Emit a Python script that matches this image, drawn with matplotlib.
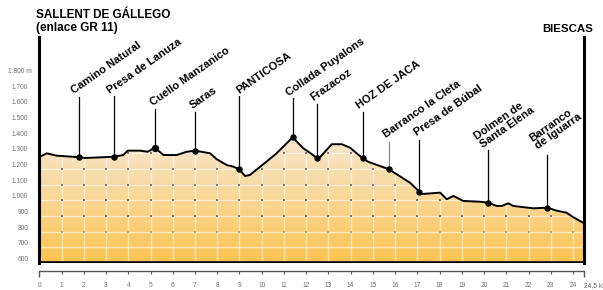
import matplotlib.pyplot as plt
import numpy as np
from matplotlib.path import Path
from matplotlib.patches import PathPatch
from matplotlib.colors import LinearSegmentedColormap
from matplotlib.transforms import ScaledTranslation

# profile (km, metres)
km = [0.0, 0.33, 0.78, 1.80, 2.05, 3.37, 3.78, 3.97, 4.53, 4.87, 5.20, 5.58, 6.18, 6.63,
      7.00, 7.68, 7.98, 8.43, 8.72, 8.98, 9.25, 9.47, 10.07, 10.67, 11.39, 11.87, 12.10,
      12.47, 12.62, 13.15, 13.60, 13.97, 14.27, 14.54, 14.79, 15.47, 15.72, 16.67, 17.09,
      17.19, 18.02, 18.32, 18.62, 19.06, 19.81, 20.19, 20.57, 20.79, 21.09, 21.31, 22.21,
      22.84, 23.26, 23.71, 24.01, 24.50]
elev = [1275, 1300, 1285, 1275, 1270, 1278, 1289, 1317, 1317, 1310, 1336, 1289, 1289, 1310,
        1317, 1300, 1262, 1225, 1215, 1200, 1155, 1162, 1230, 1300, 1402, 1332, 1310,
        1272, 1275, 1358, 1358, 1336, 1300, 1268, 1246, 1211, 1198, 1112, 1055,
        1040, 1049, 1007, 1028, 996, 991, 985, 964, 964, 981, 964, 949,
        953, 934, 921, 892, 853]

# waypoints
names = ["Camino Natural", "Presa de Lanuza", "Cuello Manzanico", "Saras", "PANTICOSA",
         "Collada Puyalons", "Frazacoz", "HOZ DE JACA", "Barranco la Cleta", "Presa de Búbal",
         "Dolmen de\nSanta Elena", "Barranco\nde Iguarra"]
wp_km = [1.80, 3.37, 5.20, 7.00, 8.98, 11.39, 12.47, 14.54, 15.72, 17.09, 20.19, 22.84]
wp_elev = [1275, 1278, 1336, 1317, 1200, 1402, 1272, 1268, 1198, 1055, 985, 953]

y_ticks = [600, 700, 800, 900, 1000, 1100, 1200, 1300, 1400, 1500, 1600, 1700, 1800]
y_labels = ["600", "700", "800", "900", "1.000", "1.100", "1.200", "1.300", "1.400",
            "1.500", "1.600", "1.700", "1.800 m"]
x_ticks = list(range(1, 25))

# pixel helpers for layout (reference is 603x290)
def px_km(x):
    return (x - 39.3) / 22.24

def px_el(y):
    return 600 + (263 - y) * 6.382

# label line tops and text anchors (baseline start of last line) in pixels
line_top = [96.7, 96, 109, 112, 96, 98, 104, 112, 142, 140, 150, 155]
text_anchor = [(74, 94), (110, 94), (152.7, 106), (192.7, 109), (239.3, 94), (288.7, 96.7),
               (313, 101), (359, 109), (386, 138), (417, 136), (483, 148), (538, 150)]

plt.rcParams['font.family'] = ['Liberation Sans', 'DejaVu Sans']

fig = plt.figure(figsize=(6.03, 2.90), dpi=100)
ax = fig.add_axes([39.3 / 603, 27 / 290, (584.2 - 39.3) / 603, (263 - 37.35) / 290])
ax.set_xlim(0, 24.5)
ax.set_ylim(600, 2040)

# filled profile with gradient
verts = list(zip(km, elev)) + [(24.5, 600), (0, 600)]
poly = PathPatch(Path(verts), facecolor='none', edgecolor='none')
ax.add_patch(poly)
cmap = LinearSegmentedColormap.from_list('fill', ['#fcc450', '#f9d694', '#f5e7d0'])
grad = np.linspace(0, 1, 256).reshape(-1, 1)
im = ax.imshow(grad, cmap=cmap, origin='lower', aspect='auto',
               extent=[0, 24.5, 600, 1410], zorder=1)
im.set_clip_path(poly)

# grid inside the profile
vl = ax.vlines(x_ticks, 600, 1410, color='white', lw=1.0, alpha=0.55, zorder=2)
vl.set_clip_path(poly)
hl = ax.hlines(y_ticks[1:9], 0, 24.5, color='white', lw=1.0, alpha=0.55, zorder=2)
hl.set_clip_path(poly)

# small dots at grid crossings
for e in [800, 900, 1000, 1100, 1200, 1300]:
    xs = [k for k in x_ticks if np.interp(k, km, elev) > e + 5]
    c = '#c9a27a' if e == 800 else '#8e7060'
    ax.scatter(xs, [e] * len(xs), s=2.2, marker='s', color=c, lw=0, zorder=3)

# profile line
ax.plot(km, elev, color='black', lw=1.4, zorder=4)
ax.axhline(600, color='black', lw=2.6, zorder=5)
ax.axhline(596, color='#b0b0b0', lw=0.8, zorder=4)

# waypoints, leader lines and labels
for i, n in enumerate(names):
    lc = '#8a8a8a' if n == "Barranco la Cleta" else 'black'
    ax.plot([wp_km[i], wp_km[i]], [wp_elev[i], px_el(line_top[i])], color=lc, lw=0.9, zorder=4)
    ax.plot(wp_km[i], wp_elev[i], 'o', color='black', ms=3.6 if i != 2 else 4.2, zorder=6)
    tx, ty = text_anchor[i]
    ax.text(px_km(tx), px_el(ty), n, rotation=35, rotation_mode='anchor', ha='left',
            va='baseline', fontsize=8, fontweight='bold', linespacing=0.95,
            multialignment='left', zorder=6)

# frame
ax.spines['top'].set_visible(False)
ax.spines['left'].set_linewidth(2.2)
ax.spines['right'].set_linewidth(2.2)

# y axis
ax.set_yticks(y_ticks)
ax.set_yticklabels(y_labels)
ax.tick_params(axis='y', length=0, pad=8, labelsize=4.8, labelcolor='#707070')
for lab in ax.get_yticklabels():
    lab.set_va('bottom')
    if lab.get_text().endswith('m'):
        lab.set_transform(lab.get_transform() + ScaledTranslation(3 / 72, 0, fig.dpi_scale_trans))

# x axis ruler
ax.spines['bottom'].set_position(('outward', 6))
ax.spines['bottom'].set_linewidth(1.0)
ax.spines['bottom'].set_color('#555555')
ax.set_xticks(x_ticks)
ax.set_xticklabels([str(k) for k in x_ticks])
ax.set_xticks([0, 24.5], minor=True)
ax.set_xticklabels(["0", "24,5 km"], minor=True)
ax.tick_params(axis='x', which='major', direction='out', length=2.2, width=0.8, color='#555555',
               pad=5.5, labelsize=4.8, labelcolor='#707070')
ax.tick_params(axis='x', which='minor', direction='out', length=4.0, width=1.0, color='#555555',
               pad=3.7, labelsize=4.8, labelcolor='#707070')
ax.get_xticklabels(minor=True)[1].set_ha('left')

# titles
fig.text(36 / 603, 1 - 9.5 / 290, "SALLENT DE GÁLLEGO\n(enlace GR 11)", ha='left', va='top',
         fontsize=8.5, fontweight='bold', linespacing=1.0)
fig.text(593 / 603, 1 - 32 / 290, "BIESCAS", ha='right', va='baseline',
         fontsize=8.2, fontweight='bold')

fig.savefig('out.png', dpi=100)
